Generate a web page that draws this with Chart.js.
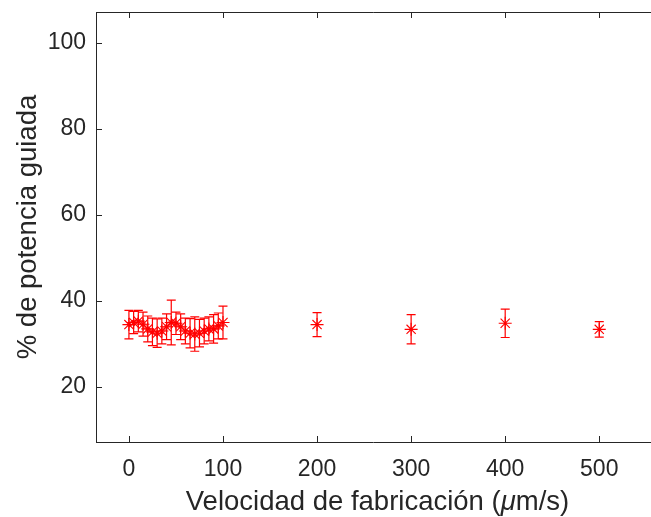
<!DOCTYPE html>
<html>
<head>
<meta charset="utf-8">
<script src="https://cdn.jsdelivr.net/npm/chart.js@4/dist/chart.umd.min.js"></script>
<style>
  html, body { margin: 0; padding: 0; background: #fff; }
  #wrap { width: 651px; height: 517px; }
</style>
</head>
<body>
<div id="wrap"><canvas id="chart" width="651" height="517"></canvas></div>
<script>
// fabrication speed (um/s) and guided power (%) with its spread
const speeds = [0, 5, 10, 15, 20, 25, 30, 35, 40, 45, 50, 55, 60, 65, 70, 75, 80, 85, 90, 95, 100, 200, 300, 400, 500];
const power  = [34.5, 35.0, 35.3, 34.6, 33.5, 32.8, 32.5, 33.0, 34.0, 35.0, 34.8, 34.0, 33.0, 32.5, 32.3, 32.5, 33.0, 33.5, 33.5, 34.2, 35.0, 34.5, 33.4, 34.8, 33.4];
const spread = [3.3, 2.6, 2.5, 2.8, 3.0, 3.2, 3.3, 3.0, 3.0, 5.2, 2.6, 3.0, 3.0, 3.4, 4.0, 3.2, 3.0, 2.8, 3.3, 3.0, 3.8, 2.8, 3.4, 3.3, 1.8];
const xTicks = [0, 100, 200, 300, 400, 500];
const yTicks = [20, 40, 60, 80, 100];

const axisColor = '#262626';
const red = '#ff0000';
const family = '"Liberation Sans", Arial, sans-serif';

const points = speeds.map((s, i) => ({ x: s, y: power[i] }));
const dense = points.filter(p => p.x <= 100);

function noPadding(scale) {
    scale.paddingTop = 0;
    scale.paddingBottom = 0;
    scale.paddingLeft = 0;
    scale.paddingRight = 0;
}

// error bars, box edges, inward tick marks and axis titles
const decorations = {
    id: 'decorations',
    beforeDatasetsDraw(chart) {
        const ctx = chart.ctx;
        const xs = chart.scales.x, ys = chart.scales.y;
        ctx.save();
        ctx.strokeStyle = red;
        ctx.lineWidth = 1.2;
        speeds.forEach((s, i) => {
            const px = xs.getPixelForValue(s);
            const top = ys.getPixelForValue(power[i] + spread[i]);
            const bot = ys.getPixelForValue(power[i] - spread[i]);
            ctx.beginPath();
            ctx.moveTo(px, top); ctx.lineTo(px, bot);
            ctx.moveTo(px - 4.5, top); ctx.lineTo(px + 4.5, top);
            ctx.moveTo(px - 4.5, bot); ctx.lineTo(px + 4.5, bot);
            ctx.stroke();
        });
        ctx.restore();
    },
    afterDraw(chart) {
        const ctx = chart.ctx;
        const xs = chart.scales.x, ys = chart.scales.y;
        const a = chart.chartArea;
        const edge = chart.width;
        ctx.save();
        ctx.strokeStyle = axisColor;
        ctx.lineWidth = 1;
        ctx.beginPath();
        ctx.moveTo(a.left + 0.5, a.top + 0.5); ctx.lineTo(edge, a.top + 0.5);
        ctx.moveTo(a.left + 0.5, a.top); ctx.lineTo(a.left + 0.5, a.bottom);
        ctx.moveTo(a.left, a.bottom + 0.5); ctx.lineTo(edge, a.bottom + 0.5);
        xTicks.forEach(t => {
            const px = Math.round(xs.getPixelForValue(t)) + 0.5;
            ctx.moveTo(px, a.bottom); ctx.lineTo(px, a.bottom - 6);
            ctx.moveTo(px, a.top); ctx.lineTo(px, a.top + 6);
        });
        yTicks.forEach(t => {
            const py = Math.round(ys.getPixelForValue(t)) + 0.5;
            ctx.moveTo(a.left, py); ctx.lineTo(a.left + 6, py);
        });
        ctx.stroke();

        ctx.fillStyle = axisColor;
        ctx.textBaseline = 'alphabetic';
        const f = '27.5px ' + family;
        const fi = 'italic 27.5px ' + family;
        const parts = [['Velocidad de fabricación (', f], ['μ', fi], ['m/s)', f]];
        let w = 0;
        parts.forEach(p => { ctx.font = p[1]; w += ctx.measureText(p[0]).width; });
        let x = 377.5 - w / 2;
        ctx.textAlign = 'left';
        parts.forEach(p => {
            ctx.font = p[1];
            ctx.fillText(p[0], x, 510);
            x += ctx.measureText(p[0]).width;
        });
        ctx.translate(36, 227);
        ctx.rotate(-Math.PI / 2);
        ctx.font = f;
        ctx.textAlign = 'center';
        ctx.fillText('% de potencia guiada', 0, 0);
        ctx.restore();
    }
};

new Chart(document.getElementById('chart'), {
    type: 'scatter',
    data: {
        datasets: [
            {
                data: points,
                showLine: false,
                pointStyle: 'star',
                radius: 6.5,
                borderColor: red,
                backgroundColor: red,
                borderWidth: 1.1
            },
            {
                data: dense,
                showLine: true,
                tension: 0.4,
                borderColor: 'rgba(255,255,255,0.9)',
                borderWidth: 1.3,
                pointRadius: 0
            },
            {
                data: dense,
                showLine: true,
                tension: 0.4,
                borderColor: 'rgba(255,0,0,0.55)',
                borderWidth: 5,
                pointRadius: 0
            }
        ]
    },
    plugins: [decorations],
    options: {
        responsive: false,
        animation: false,
        layout: { autoPadding: false, padding: { top: 12, right: 0, left: 0, bottom: 0 } },
        plugins: {
            legend: { display: false },
            tooltip: { enabled: false }
        },
        scales: {
            x: {
                type: 'linear',
                min: -35,
                max: 555,
                afterFit(scale) { scale.height = 75; noPadding(scale); },
                afterBuildTicks(scale) { scale.ticks = xTicks.map(v => ({ value: v })); },
                grid: { display: false },
                border: { display: false },
                ticks: {
                    color: axisColor,
                    padding: 6,
                    maxRotation: 0,
                    font: { family: family, size: 23 }
                }
            },
            y: {
                type: 'linear',
                min: 7.2,
                max: 107.2,
                afterFit(scale) { scale.width = 96; noPadding(scale); },
                afterBuildTicks(scale) { scale.ticks = yTicks.map(v => ({ value: v })); },
                grid: { display: false },
                border: { display: false },
                ticks: {
                    color: axisColor,
                    padding: 2,
                    font: { family: family, size: 23 }
                }
            }
        }
    }
});
</script>
</body>
</html>
